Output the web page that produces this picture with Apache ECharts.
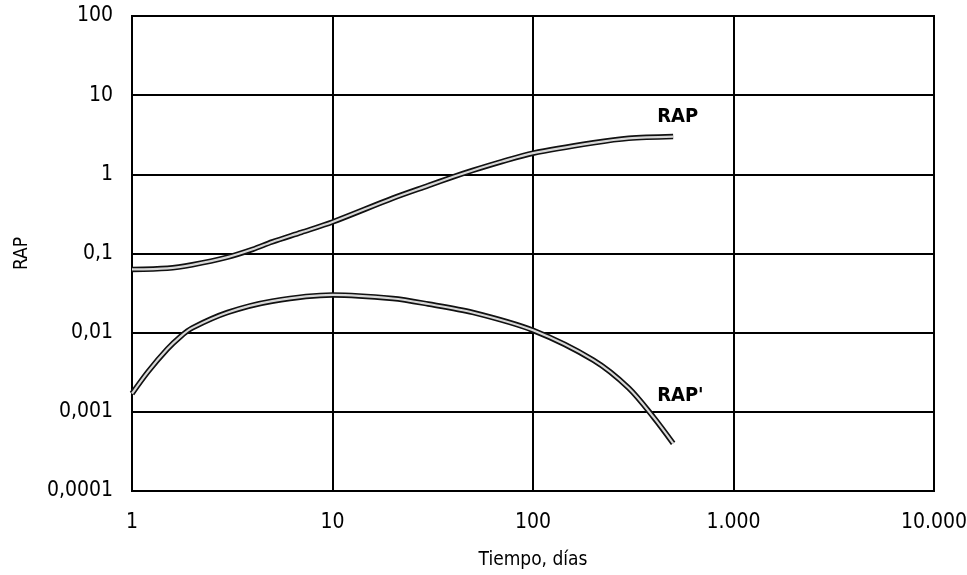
<!DOCTYPE html>
<html>
<head>
<meta charset="utf-8">
<script src="https://cdn.jsdelivr.net/npm/echarts@6/dist/echarts.min.js"></script>
<style>
  html, body { margin: 0; padding: 0; background: #fff; }
  #chart { width: 967px; height: 575px; }
</style>
</head>
<body>
<div id="chart"></div>
<script>
// RAP curve (upper)
const rapDays = [1, 1.5, 2, 3, 4, 5, 7, 10, 20, 30, 40, 50, 70, 100, 200, 300, 500]
const rapValues = [0.063, 0.065, 0.072, 0.09, 0.113, 0.14, 0.185, 0.25, 0.5, 0.72, 0.93, 1.12, 1.45, 1.85, 2.5, 2.85, 3.0]

// RAP' curve (lower)
const rapDerivDays = [1, 1.2, 1.5, 1.75, 2, 3, 5, 10, 20, 30, 50, 100, 200, 300, 400, 500]
const rapDerivValues = [0.0017, 0.0032, 0.0062, 0.009, 0.0115, 0.018, 0.025, 0.030, 0.027, 0.023, 0.018, 0.0107, 0.0045, 0.002, 0.00085, 0.0004]

// tick labels, one per decade
const xTickLabels = ['1', '10', '100', '1.000', '10.000']
const yTickLabels = ['0,0001', '0,001', '0,01', '0,1', '1', '10', '100']

const font = "'DejaVu Sans Condensed', 'Liberation Sans', sans-serif"

const chart = echarts.init(document.getElementById('chart'))

function pairs (xs, ys) {
    return xs.map((x, i) => [x, ys[i]])
}

// double-stroke look: dark outer line + light inner line
function curve (name, xs, ys, label, offset) {
    return [{
        name: name,
        type: 'line',
        data: pairs(xs, ys),
        smooth: 0.3,
        showSymbol: false,
        lineStyle: { color: '#111', width: 5.5 },
        z: 3,
        endLabel: {
            show: true,
            formatter: label,
            offset: offset,
            color: '#000',
            fontFamily: font,
            fontSize: 20,
            fontWeight: 'bold'
        }
    }, {
        name: name + '-inner',
        type: 'line',
        data: pairs(xs, ys),
        smooth: 0.3,
        showSymbol: false,
        lineStyle: { color: '#d8d8d8', width: 2.2 },
        z: 4
    }]
}

const option = {
    backgroundColor: '#fff',
    animation: false,
    grid: {
        left: 132,
        right: 33,
        top: 16,
        bottom: 84,
        outerBoundsMode: 'none',
        containLabel: false,
        show: true,
        borderColor: '#000',
        borderWidth: 2
    },
    xAxis: {
        type: 'log',
        logBase: 10,
        min: 1,
        max: 10000,
        name: 'Tiempo, días',
        nameLocation: 'middle',
        nameGap: 60,
        nameTextStyle: { fontFamily: font, fontSize: 19, color: '#000' },
        axisLine: { show: false },
        axisTick: { show: false },
        axisLabel: {
            margin: 21,
            fontFamily: font,
            fontSize: 21,
            color: '#000',
            formatter: v => xTickLabels[Math.round(Math.log10(v))]
        },
        splitLine: { show: true, lineStyle: { color: '#000', width: 2 } },
        minorSplitLine: { show: false }
    },
    yAxis: {
        type: 'log',
        logBase: 10,
        min: 0.0001,
        max: 100,
        name: 'RAP',
        nameLocation: 'middle',
        nameRotate: 90,
        nameGap: 100,
        nameTextStyle: { fontFamily: font, fontSize: 19, color: '#000' },
        axisLine: { show: false },
        axisTick: { show: false },
        axisLabel: {
            margin: 19,
            fontFamily: font,
            fontSize: 21,
            color: '#000',
            formatter: v => yTickLabels[Math.round(Math.log10(v)) + 4]
        },
        splitLine: { show: true, lineStyle: { color: '#000', width: 2 } }
    },
    series: [
        ...curve('RAP', rapDays, rapValues, 'RAP', [-24, -20]),
        ...curve("RAP'", rapDerivDays, rapDerivValues, "RAP'", [-24, -48])
    ]
}

chart.setOption(option)
</script>
</body>
</html>
